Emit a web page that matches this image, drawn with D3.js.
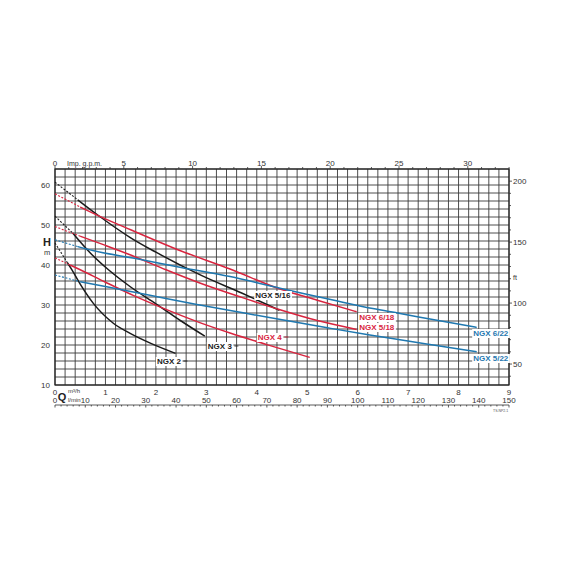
<!DOCTYPE html>
<html>
<head>
<meta charset="utf-8">
<script src="https://cdn.jsdelivr.net/npm/d3@7"></script>
<style>
  body { margin: 0; background: #fff; }
  svg { display: block; }
  text { font-family: "Liberation Sans Narrow", "Arial Narrow", "Liberation Sans", sans-serif; }
</style>
</head>
<body>
<svg id="chart" width="570" height="570"></svg>
<script>
// Q in m3/h, H in m. first two points of each curve = dotted part from Q=0
const ngx2   = [[0,45.5],[0.25,40.5],[0.33,38.9],[0.5,35.2],[0.76,30.4],[1.15,25.5],[1.49,22.9],[1.9,20.4],[2.39,17.9]];
const ngx3   = [[0,52.2],[0.35,48],[0.7,43],[1.06,38.8],[1.5,34.5],[2.0,30.3],[2.5,26],[2.97,22.2]];
const ngx4   = [[0,41.75],[0.3,40],[0.5,38.8],[1.0,35.7],[1.55,32.4],[2.2,28.9],[2.87,25.6],[3.47,23],[4.2,20.1],[5.05,16.9]];
const ngx516 = [[0,60.7],[0.45,56.3],[0.9,52],[1.5,46.8],[2.0,43.2],[2.9,37.4],[3.7,33],[4.45,28.7]];
const ngx618 = [[0,57.8],[0.5,54.5],[0.9,52.1],[1.5,48.8],[2.5,43.5],[3.47,39],[4.46,34],[5.2,31.2],[5.98,28.3]];
const ngx518 = [[0,49.6],[0.5,47.2],[1.0,44.9],[1.5,42.5],[2.2,38.8],[2.87,35.5],[3.7,31.9],[4.46,28.8],[5.2,26.1],[5.98,23.9]];
const ngx622 = [[0,46.3],[0.45,44.6],[0.75,43.6],[1.6,41.6],[2.5,39.4],[3.47,37.1],[4.46,34.2],[4.92,32.9],[5.6,31],[6.3,29.1],[6.84,27.9],[7.6,26.1],[8.36,24.4]];
const ngx522 = [[0,37.5],[0.5,35.8],[1.0,34.6],[1.5,33.4],[2.2,31.6],[2.87,30],[3.7,28.1],[4.5,26.3],[5.4,24.3],[6.24,22.5],[6.84,21.3],[7.6,19.8],[8.36,18.3]];

const curveNames = ["NGX 2","NGX 3","NGX 4","NGX 5/16","NGX 6/18","NGX 5/18","NGX 6/22","NGX 5/22"];
const curvePoints = [ngx2, ngx3, ngx4, ngx516, ngx618, ngx518, ngx622, ngx522];
// label anchor (Q, H) for each curve name
const labelQ = [2.02, 3.03, 4.02, 3.97, 6.03, 6.03, 8.29, 8.29];
const labelH = [16, 19.75, 22, 32.5, 27, 24.5, 23, 16.75];

const headTicks = [10,20,30,40,50,60];
const feetTicks = [50,100,150,200];
const gpmTicks = [0,5,10,15,20,25,30];
const m3hTicks = [0,1,2,3,4,5,6,7,8,9];
const lminTicks = [10,20,30,40,50,60,70,80,90,100,110,120,130,140,150];

const BLACK = "#1b1b1b", RED = "#d8253f", BLUE = "#1f78b0";
const curveColors = {"NGX 2":BLACK,"NGX 3":BLACK,"NGX 5/16":BLACK,"NGX 4":RED,"NGX 6/18":RED,"NGX 5/18":RED,"NGX 6/22":BLUE,"NGX 5/22":BLUE};

const svg = d3.select("#chart");
svg.append("rect").attr("width",570).attr("height",570).attr("fill","#fff");

const x = d3.scaleLinear().domain([0,9]).range([55,509]);
const y = d3.scaleLinear().domain([10,64]).range([385,169]);
const yFt = d3.scaleLinear().domain([10*3.28084, 64*3.28084]).range([385,169]);
const xGpm = d3.scaleLinear().domain([0,150/4.54609]).range([55,509]);
const xL = d3.scaleLinear().domain([0,150]).range([55,509]);

// grid
const grid = svg.append("g").attr("stroke","#3a3a3a").attr("stroke-width",0.9);
grid.selectAll(".v").data(d3.range(0,46)).enter().append("line")
  .attr("x1", i => x(i*0.2)).attr("x2", i => x(i*0.2))
  .attr("y1", y(10)).attr("y2", y(64));
grid.selectAll(".h").data(d3.range(0,28)).enter().append("line")
  .attr("y1", j => y(10+2*j)).attr("y2", j => y(10+2*j))
  .attr("x1", x(0)).attr("x2", x(9));
svg.append("rect").attr("x",x(0)).attr("y",y(64)).attr("width",x(9)-x(0)).attr("height",y(10)-y(64))
  .attr("fill","none").attr("stroke","#222").attr("stroke-width",1.2);

// curves
const line = d3.line().x(d => x(d[0])).y(d => y(d[1])).curve(d3.curveMonotoneX);
curveNames.forEach((name, k) => {
  const pts = curvePoints[k];
  const col = curveColors[name];
  svg.append("path").attr("d", line(pts.slice(0,2)))
    .attr("fill","none").attr("stroke",col).attr("stroke-width",1.1).attr("stroke-dasharray","2,1.6");
  svg.append("path").attr("d", line(pts.slice(1)))
    .attr("fill","none").attr("stroke",col).attr("stroke-width",1.5);
});

// curve labels
curveNames.forEach((name, k) => {
  const g = svg.append("g");
  const t = g.append("text").attr("x", x(labelQ[k])).attr("y", y(labelH[k]) + 3)
    .attr("font-size", 8).attr("font-weight","bold").attr("fill", curveColors[name]).text(name);
  const b = t.node().getBBox();
  g.insert("rect","text").attr("x",b.x-1).attr("y",b.y).attr("width",b.width+2).attr("height",b.height).attr("fill","#fff");
  if (k < 3) {
    g.append("line").attr("x1",b.x+b.width+2).attr("x2",b.x+b.width+6)
      .attr("y1",y(labelH[k])).attr("y2",y(labelH[k])).attr("stroke",curveColors[name]).attr("stroke-width",0.8);
  }
});

// left head axis
svg.append("g").selectAll("text").data(headTicks).enter().append("text")
  .attr("x",50).attr("y",d => y(d)+3).attr("text-anchor","end")
  .attr("font-size",8).attr("fill","#333").text(d => d);
svg.append("text").attr("x",47).attr("y",246).attr("text-anchor","middle")
  .attr("font-size",11).attr("font-weight","bold").attr("fill","#222").text("H");
svg.append("text").attr("x",47).attr("y",255).attr("text-anchor","middle")
  .attr("font-size",7.5).attr("fill","#333").text("m");

// right feet axis
const ftG = svg.append("g").attr("stroke","#333").attr("stroke-width",0.8);
ftG.selectAll("line").data(d3.range(40,210,10)).enter().append("line")
  .attr("x1",x(9)).attr("x2",d => x(9) + (d % 50 === 0 ? 3 : 2))
  .attr("y1",d => yFt(d)).attr("y2",d => yFt(d));
svg.append("g").selectAll("text").data(feetTicks).enter().append("text")
  .attr("x",513).attr("y",d => yFt(d)+3).attr("font-size",8).attr("fill","#333").text(d => d);
svg.append("text").attr("x",513).attr("y",280).attr("font-size",7).attr("fill","#333").text("ft");

// top imp gpm axis
const gpmG = svg.append("g").attr("stroke","#333").attr("stroke-width",0.8);
gpmG.selectAll("line").data(d3.range(0,34)).enter().append("line")
  .attr("x1",d => xGpm(d)).attr("x2",d => xGpm(d))
  .attr("y1",y(64)).attr("y2",d => y(64) - (d % 5 === 0 ? 3 : 2));
svg.append("g").selectAll("text").data(gpmTicks).enter().append("text")
  .attr("x",d => xGpm(d)).attr("y",166).attr("text-anchor","middle")
  .attr("font-size",8).attr("fill","#333").text(d => d);
svg.append("text").attr("x",67).attr("y",166).attr("font-size",7).attr("fill","#333").text("Imp. g.p.m.");

// bottom m3/h and l/min
svg.append("g").selectAll("text").data(m3hTicks).enter().append("text")
  .attr("x",d => x(d)).attr("y",395).attr("text-anchor","middle")
  .attr("font-size",8).attr("fill","#333").text(d => d);
svg.append("text").attr("x",x(0)).attr("y",403).attr("text-anchor","middle")
  .attr("font-size",8).attr("fill","#333").text("0");
svg.append("g").selectAll("text").data(lminTicks).enter().append("text")
  .attr("x",d => xL(d)).attr("y",403).attr("text-anchor","middle")
  .attr("font-size",8).attr("fill","#333").text(d => d);
svg.append("text").attr("x",62).attr("y",401).attr("text-anchor","middle")
  .attr("font-size",11).attr("font-weight","bold").attr("fill","#222").text("Q");
svg.append("text").attr("x",68).attr("y",393).attr("font-size",6).attr("fill","#333").text("m³/h");
svg.append("text").attr("x",68).attr("y",401.5).attr("font-size",6).attr("fill","#333").text("l/min");

const botG = svg.append("g").attr("stroke","#333").attr("stroke-width",0.8);
botG.append("line").attr("x1",x(0)).attr("x2",x(9)).attr("y1",405).attr("y2",405);
botG.selectAll(".t").data(d3.range(0,151,2)).enter().append("line")
  .attr("x1",d => xL(d)).attr("x2",d => xL(d))
  .attr("y1",405).attr("y2",d => 405 + (d % 10 === 0 ? 2.5 : 1.5));

svg.append("text").attr("x",493).attr("y",412).attr("font-size",3.5).attr("fill","#555").text("TS.NP2.1");
</script>
</body>
</html>
